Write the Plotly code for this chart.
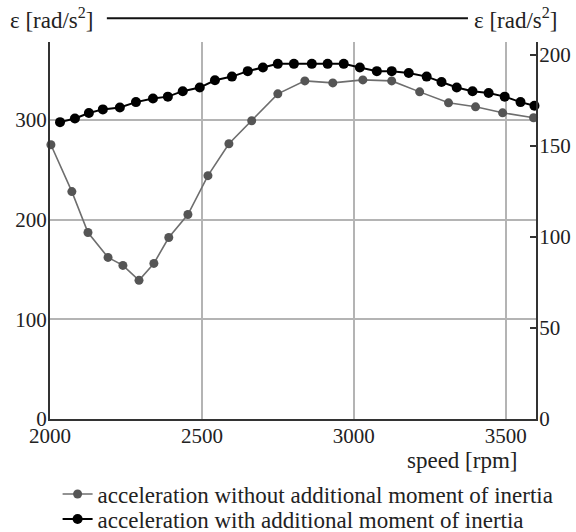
import plotly.graph_objects as go

# speed [rpm] and acceleration values
gray_rpm = [2003, 2072, 2125, 2191, 2240, 2293, 2342, 2391, 2454, 2520, 2589,
            2664, 2750, 2839, 2931, 3030, 3125, 3217, 3312, 3401, 3490, 3592]
gray_eps = [275, 228, 187, 162, 154, 139, 156, 182, 205, 244, 276,
            299, 326, 339, 337, 340, 339, 328, 317, 313, 307, 302]

black_rpm = [2033, 2082, 2128, 2174, 2230, 2283, 2339, 2388, 2437, 2493, 2543,
             2599, 2651, 2701, 2750, 2803, 2862, 2914, 2967, 3020, 3076, 3125,
             3181, 3240, 3289, 3339, 3391, 3444, 3497, 3549, 3595]
black_eps = [163, 165, 168, 170, 171, 174, 176, 177, 180, 182, 186,
             188, 191, 193, 195, 195, 195, 195, 195, 193, 191, 191,
             190, 188, 185, 182, 180, 179, 177, 174, 172]

x_ticks = [2000, 2500, 3000, 3500]
left_ticks = [0, 100, 200, 300]
right_ticks = [0, 50, 100, 150, 200]

series_names = ["acceleration without additional moment of inertia",
                "acceleration with additional moment of inertia"]

FONT = "Liberation Serif"
TXT = "#222222"
TICK = dict(family=FONT, size=21, color=TXT)
LABEL = dict(family=FONT, size=23, color=TXT)

fig = go.Figure()
fig.add_trace(go.Scatter(
    x=gray_rpm, y=gray_eps, mode="lines+markers", name=series_names[0],
    line=dict(color="#6e6e6e", width=1.6),
    marker=dict(color="#555555", size=9, symbol="circle"),
    yaxis="y", cliponaxis=False, legend="legend"))
fig.add_trace(go.Scatter(
    x=black_rpm, y=black_eps, mode="lines+markers", name=series_names[1],
    line=dict(color="#000000", width=2),
    marker=dict(color="#000000", size=10, symbol="circle"),
    yaxis="y2", cliponaxis=False, legend="legend2"))

legend_common = dict(xref="container", yref="container",
                     xanchor="left", yanchor="middle",
                     font=LABEL, bgcolor="rgba(0,0,0,0)", itemwidth=30)

fig.update_layout(
    template="none",
    width=576, height=532,
    margin=dict(l=50, r=40, t=42, b=113, autoexpand=False),
    paper_bgcolor="white", plot_bgcolor="white",
    font=dict(family=FONT, size=21, color=TXT),
    showlegend=True,
    legend=dict(x=0.1, y=(532 - 494) / 532, **legend_common),
    legend2=dict(x=0.1, y=(532 - 519) / 532, **legend_common),
    xaxis=dict(range=[2000, 3600], tickvals=x_ticks,
               ticktext=[str(v) for v in x_ticks], automargin=False,
               showgrid=True, gridcolor="#b4b4b4", gridwidth=1.5,
               showline=True, linecolor="#333", linewidth=2,
               ticks="", zeroline=False, ticklabelstandoff=-3,
               tickfont=TICK),
    yaxis=dict(range=[0, 378], tickvals=left_ticks,
               ticktext=[str(v) for v in left_ticks], automargin=False,
               showgrid=True, gridcolor="#b4b4b4", gridwidth=1.5,
               showline=True, linecolor="#333", linewidth=2,
               ticks="", zeroline=False, ticklabelstandoff=-3,
               tickfont=TICK),
    yaxis2=dict(range=[0, 207], tickvals=right_ticks,
                ticktext=[str(v) for v in right_ticks], automargin=False,
                overlaying="y", side="right", showgrid=False,
                showline=True, linecolor="#333", linewidth=2,
                ticks="inside", ticklen=6, tickcolor="#333", tickwidth=1.5,
                zeroline=False, ticklabelstandoff=-3,
                tickfont=TICK),
    annotations=[
        dict(text="ε [rad/s<sup>2</sup>]", xref="paper", yref="paper",
             x=-0.087, y=1.063, xanchor="left", yanchor="middle",
             showarrow=False, font=LABEL),
        dict(text="ε [rad/s<sup>2</sup>]", xref="paper", yref="paper",
             x=0.868, y=1.063, xanchor="left", yanchor="middle",
             showarrow=False, font=LABEL),
        dict(text="speed [rpm]", xref="paper", yref="paper",
             x=0.968, y=-0.11, xanchor="right", yanchor="middle",
             showarrow=False, font=LABEL),
    ],
    shapes=[
        dict(type="line", xref="paper", yref="paper",
             x0=0.117, x1=0.86, y0=1.063, y1=1.063,
             line=dict(color="#111", width=2)),
    ],
)

fig.write_html("out.html")
